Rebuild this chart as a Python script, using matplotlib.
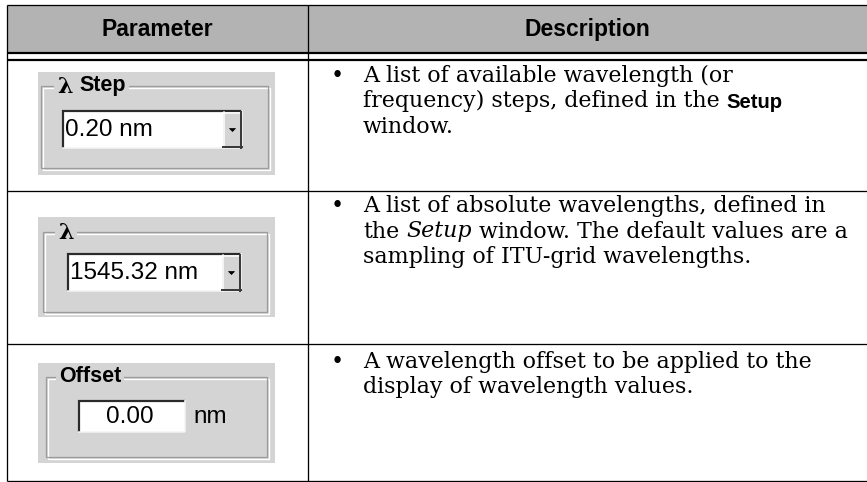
import matplotlib
matplotlib.use('Agg')
import matplotlib.pyplot as plt
from matplotlib.patches import Rectangle, Polygon

# table content
HEADERS = ['Parameter', 'Description']
PARAM_LABELS = ['λ Step', 'λ', 'Offset']
PARAM_VALUES = ['0.20 nm', '1545.32 nm', '0.00']
PARAM_UNITS = ['', '', 'nm']
CONTROL_TYPES = ['combo', 'combo', 'edit']

# each description line is a list of (text, style) pieces: r=regular, b=bold sans, i=italic
DESCRIPTIONS = [
    [[('A list of available wavelength (or', 'r')],
     [('frequency) steps, defined in the ', 'r'), ('Setup', 'b')],
     [('window.', 'r')]],
    [[('A list of absolute wavelengths, defined in', 'r')],
     [('the ', 'r'), ('Setup', 'i'), (' window. The default values are a', 'r')],
     [('sampling of ITU-grid wavelengths.', 'r')]],
    [[('A wavelength offset to be applied to the', 'r')],
     [('display of wavelength values.', 'r')]],
]

# layout (pixels, y grows downward)
W, H = 867, 482
TABLE_LEFT, TABLE_RIGHT = 7, 867
COL_SPLIT = 308
HEADER_TOP, HEADER_BOTTOM = 5, 52
ROW_EDGES = [60, 191, 344, 481]

PANELS = [(38, 72, 275, 175), (38, 217, 275, 317), (38, 363, 275, 463)]
FRAMES = [(41, 86, 268, 168), (43, 232, 267, 312), (46, 377, 267, 457)]
LABEL_X = [57, 58, 59]
CONTROLS = [(62, 110, 242, 148), (67, 253, 241, 291), (78, 400, 185, 432)]

BULLET_X = 331
TEXT_X = 363
FIRST_BASELINE = [82, 212, 368]
LINE_STEP = 25.5

PX = 0.72  # one pixel in points at dpi 100
PANEL_GRAY = '#d4d4d4'
HEADER_GRAY = '#b3b3b3'

SERIF = 'DejaVu Serif'
SANS = 'Liberation Sans'
DESC_SIZE = 15.9


def hline(ax, x0, x1, y, lw, color='black'):
    ax.plot([x0, x1], [y, y], color=color, lw=lw * PX, solid_capstyle='butt')


def vline(ax, x, y0, y1, lw, color='black'):
    ax.plot([x, x], [y0, y1], color=color, lw=lw * PX, solid_capstyle='butt')


def fill(ax, x0, y0, x1, y1, color, z=1):
    ax.add_patch(Rectangle((x0, y0), x1 - x0, y1 - y0, facecolor=color,
                           edgecolor='none', zorder=z))


def sunken_box(ax, x0, y0, x1, y1):
    fill(ax, x0, y0, x1, y1, 'white')
    hline(ax, x0, x1, y0 + 1, 2.2, '#2a2a2a')
    vline(ax, x0 + 1, y0, y1, 2.2, '#2a2a2a')
    hline(ax, x0, x1, y1, 1.5, '#f4f4f4')
    vline(ax, x1, y0, y1, 1.5, '#f4f4f4')


def drop_button(ax, x0, y0, x1, y1):
    fill(ax, x0, y0, x1, y1, PANEL_GRAY, z=3)
    for art in (
        ax.plot([x0 + 0.5, x0 + 0.5], [y0, y1], color='white', lw=1.5 * PX),
        ax.plot([x0, x1], [y0 + 0.5, y0 + 0.5], color='white', lw=1.5 * PX),
        ax.plot([x1 - 1, x1 - 1], [y0, y1], color='#3a3a3a', lw=2 * PX),
        ax.plot([x0, x1], [y1 - 1, y1 - 1], color='#3a3a3a', lw=2 * PX),
    ):
        art[0].set_zorder(4)
    cx, cy = (x0 + x1) / 2, (y0 + y1) / 2
    ax.add_patch(Polygon([(cx - 3, cy - 1.5), (cx + 3, cy - 1.5), (cx, cy + 1.5)],
                         closed=True, facecolor='black', edgecolor='black', lw=0.5,
                         zorder=5))


def group_frame(ax, x0, y0, x1, y1):
    ax.add_patch(Rectangle((x0 + 1.5, y0 + 1.5), x1 - x0, y1 - y0, facecolor='none',
                           edgecolor='white', lw=1.3 * PX))
    ax.add_patch(Rectangle((x0, y0), x1 - x0, y1 - y0, facecolor='none',
                           edgecolor='#9c9c9c', lw=1.3 * PX))


def text_width(ax, renderer, s, **kw):
    t = ax.text(0, 0, s, **kw)
    w = t.get_window_extent(renderer).width
    t.remove()
    return w


fig = plt.figure(figsize=(W / 100, H / 100), dpi=100)
ax = fig.add_axes([0, 0, 1, 1])
ax.set_xlim(0, W)
ax.set_ylim(H, 0)
ax.axis('off')
renderer = fig.canvas.get_renderer()

# header band
fill(ax, TABLE_LEFT, HEADER_TOP, TABLE_RIGHT, HEADER_BOTTOM, HEADER_GRAY)
col_centers = [(TABLE_LEFT + COL_SPLIT) / 2, (COL_SPLIT + TABLE_RIGHT) / 2]
for head, cx in zip(HEADERS, col_centers):
    ax.text(cx, (HEADER_TOP + HEADER_BOTTOM) / 2 + 1, head, ha='center', va='center',
            fontsize=16.5, fontweight='bold', family=SANS, color='black')

# grid lines
hline(ax, TABLE_LEFT, TABLE_RIGHT, HEADER_TOP, 1.3)
hline(ax, TABLE_LEFT, TABLE_RIGHT, HEADER_BOTTOM + 1, 2.2)
hline(ax, TABLE_LEFT, TABLE_RIGHT, ROW_EDGES[0], 2.2)
for y in ROW_EDGES[1:]:
    hline(ax, TABLE_LEFT, TABLE_RIGHT, y, 1.3)
vline(ax, TABLE_LEFT, HEADER_TOP, ROW_EDGES[-1], 1.3)
vline(ax, COL_SPLIT, HEADER_TOP, ROW_EDGES[-1], 1.3)

# parameter widgets
for i, label in enumerate(PARAM_LABELS):
    px0, py0, px1, py1 = PANELS[i]
    fill(ax, px0, py0, px1, py1, PANEL_GRAY)
    fx0, fy0, fx1, fy1 = FRAMES[i]
    group_frame(ax, fx0, fy0, fx1, fy1)

    # the lambda sign is drawn serif, the rest of the label bold sans
    x = LABEL_X[i]
    rest = label
    if label.startswith('λ'):
        t = ax.text(x, fy0 + 1, 'λ', ha='left', va='center', fontsize=16,
                    family=SERIF, fontweight='semibold', color='black', zorder=3)
        x += t.get_window_extent(renderer).width
        rest = label[1:].strip()
        if rest:
            x += 7
    if rest:
        t = ax.text(x, fy0, rest, ha='left', va='center', fontsize=15.5,
                    fontweight='bold', family=SANS, color='black', zorder=3)
        x += t.get_window_extent(renderer).width
    # panel-coloured gap in the etched frame behind the label
    fill(ax, LABEL_X[i] - 3, fy0 - 4, x + 3, fy0 + 4, PANEL_GRAY, z=2)

    cx0, cy0, cx1, cy1 = CONTROLS[i]
    sunken_box(ax, cx0, cy0, cx1, cy1)
    cy = (cy0 + cy1) / 2
    if CONTROL_TYPES[i] == 'combo':
        drop_button(ax, cx1 - 19, cy0 + 2, cx1, cy1)
        ax.text(cx0 + 3, cy + 1, PARAM_VALUES[i], ha='left', va='center',
                fontsize=17.5, family=SANS, color='black')
    else:
        ax.text((cx0 + cx1) / 2 - 2, cy + 1, PARAM_VALUES[i], ha='center', va='center',
                fontsize=17.5, family=SANS, color='black')
    if PARAM_UNITS[i]:
        ax.text(cx1 + 8, cy + 1, PARAM_UNITS[i], ha='left', va='center',
                fontsize=17.5, family=SANS, color='black')

# descriptions
styles = {
    'r': dict(family=SERIF, fontsize=DESC_SIZE),
    'i': dict(family=SERIF, fontsize=DESC_SIZE, style='italic'),
    'b': dict(family=SANS, fontsize=DESC_SIZE - 1.3, fontweight='bold'),
}
space_w = (text_width(ax, renderer, 'x x', **styles['r'])
           - text_width(ax, renderer, 'xx', **styles['r']))

for i, lines in enumerate(DESCRIPTIONS):
    base = FIRST_BASELINE[i]
    ax.text(BULLET_X, base, '•', ha='left', va='baseline', family=SERIF,
            fontsize=DESC_SIZE, color='black')
    for j, pieces in enumerate(lines):
        y = base + j * LINE_STEP
        x = TEXT_X
        for s, st in pieces:
            lead = len(s) - len(s.lstrip(' '))
            trail = len(s) - len(s.rstrip(' '))
            core = s.strip(' ')
            x += lead * space_w
            t = ax.text(x, y, core, ha='left', va='baseline', color='black', **styles[st])
            x += t.get_window_extent(renderer).width + trail * space_w

fig.savefig('out.png', dpi=100)
